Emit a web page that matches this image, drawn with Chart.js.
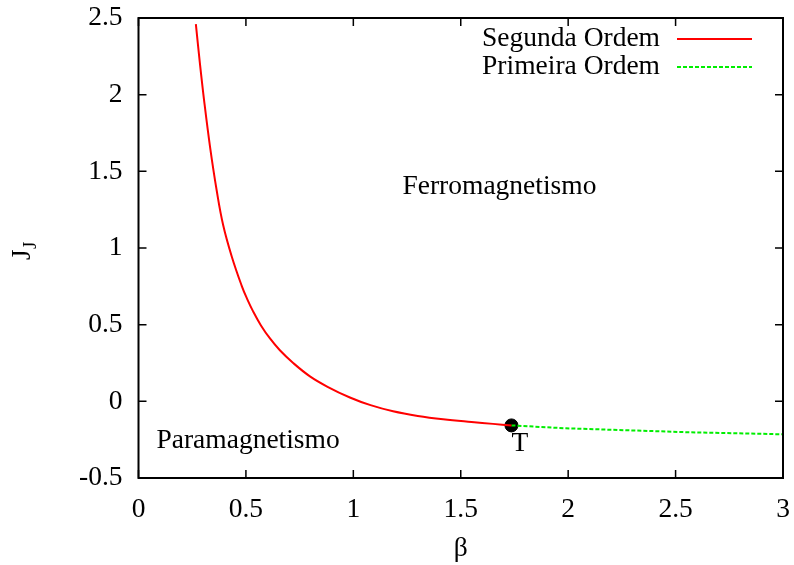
<!DOCTYPE html>
<html>
<head>
<meta charset="utf-8">
<script src="https://cdn.jsdelivr.net/npm/chart.js@4.4.1/dist/chart.umd.min.js"></script>
<style>
  html, body { margin: 0; padding: 0; background: #fff; }
  #wrap { width: 794px; height: 565px; position: relative; }
</style>
</head>
<body>
<div id="wrap"><canvas id="phaseChart"></canvas></div>
<script>
// second order line (red)
const betaSegunda = [0.267, 0.285, 0.306, 0.333, 0.364, 0.394, 0.434, 0.48, 0.505, 0.534, 0.57, 0.612, 0.658, 0.72, 0.798, 0.88, 0.984, 1.08, 1.185, 1.3, 1.418, 1.55, 1.65, 1.736];
const jSegunda    = [2.46, 2.215, 1.955, 1.66, 1.375, 1.15, 0.945, 0.755, 0.67, 0.585, 0.495, 0.41, 0.333, 0.25, 0.163, 0.095, 0.025, -0.025, -0.065, -0.095, -0.117, -0.135, -0.147, -0.157];

// first order line (green dashed)
const betaPrimeira = [1.736, 1.99, 2.148, 2.57, 3.0];
const jPrimeira    = [-0.157, -0.176, -0.183, -0.202, -0.215];

// tricritical point T
const pontoT = { x: 1.736, y: -0.157 };

const xTicks = [0, 0.5, 1, 1.5, 2, 2.5, 3];
const yTicks = [-0.5, 0, 0.5, 1, 1.5, 2, 2.5];

const legendLabels = ["Segunda Ordem", "Primeira Ordem"];

const serif = "'Liberation Serif', 'DejaVu Serif', serif";
const fontSize = 27.5;

const toPoints = (xs, ys) => xs.map((x, i) => ({ x: x, y: ys[i] }));

// text drawn at data coordinates
const anotacoes = [
    { text: "Ferromagnetismo", x: 1.68, y: 1.40 },
    { text: "Paramagnetismo", x: 0.51, y: -0.26 },
    { text: "T", x: 1.775, y: -0.275 }
];

const gnuplotFrame = {
    id: "gnuplotFrame",
    afterDraw(chart) {
        const c = chart.ctx;
        const a = chart.chartArea;
        const xs = chart.scales.x, ys = chart.scales.y;
        c.save();
        c.strokeStyle = "#000";
        c.lineWidth = 1.5;
        // inward ticks on all four sides
        c.beginPath();
        xTicks.forEach(v => {
            const px = xs.getPixelForValue(v);
            c.moveTo(px, a.bottom); c.lineTo(px, a.bottom - 8);
            c.moveTo(px, a.top); c.lineTo(px, a.top + 8);
        });
        yTicks.forEach(v => {
            const py = ys.getPixelForValue(v);
            c.moveTo(a.left, py); c.lineTo(a.left + 8, py);
            c.moveTo(a.right, py); c.lineTo(a.right - 8, py);
        });
        c.stroke();
        c.lineWidth = 2;
        c.strokeRect(a.left, a.top, a.right - a.left, a.bottom - a.top);

        // annotations
        c.fillStyle = "#000";
        c.font = fontSize + "px " + serif;
        c.textAlign = "center";
        c.textBaseline = "middle";
        anotacoes.forEach(t => {
            c.fillText(t.text, xs.getPixelForValue(t.x), ys.getPixelForValue(t.y));
        });

        // legend: text right aligned, line sample to the right
        const ds = chart.data.datasets;
        c.textAlign = "right";
        legendLabels.forEach((lab, i) => {
            const y = a.top + 21 + i * 28;
            c.fillStyle = "#000";
            c.fillText(lab, 660, y);
            c.strokeStyle = ds[i].borderColor;
            c.lineWidth = 2;
            c.setLineDash(ds[i].borderDash || []);
            c.beginPath();
            c.moveTo(677, y); c.lineTo(752, y);
            c.stroke();
            c.setLineDash([]);
        });

        // y title J with subscript J, rotated
        c.translate(22, 252);
        c.rotate(-Math.PI / 2);
        c.textAlign = "left";
        c.textBaseline = "alphabetic";
        c.font = fontSize + "px " + serif;
        c.fillText("J", -8, 8);
        c.font = "19px " + serif;
        c.fillText("J", 3, 14);
        c.restore();
    }
};

new Chart(document.getElementById("phaseChart"), {
    type: "line",
    data: {
        datasets: [
            {
                label: legendLabels[0],
                data: toPoints(betaSegunda, jSegunda),
                borderColor: "#ff0000",
                borderWidth: 2,
                pointRadius: 0,
                tension: 0.4,
                order: 1
            },
            {
                label: legendLabels[1],
                data: toPoints(betaPrimeira, jPrimeira),
                borderColor: "#00ee00",
                borderWidth: 2,
                borderDash: [4, 2],
                pointRadius: 0,
                order: 1
            },
            {
                label: "T",
                data: [pontoT],
                showLine: false,
                pointRadius: 6.5,
                pointBackgroundColor: "#000",
                pointBorderColor: "#000",
                order: 2
            }
        ]
    },
    options: {
        responsive: true,
        maintainAspectRatio: false,
        animation: false,
        layout: { padding: { top: 18, right: 11, left: 0, bottom: 0 } },
        plugins: { legend: { display: false }, tooltip: { enabled: false } },
        scales: {
            x: {
                type: "linear",
                min: 0,
                max: 3,
                afterBuildTicks: s => { s.ticks = xTicks.map(v => ({ value: v })); },
                afterFit: s => { s.height = 87; s.paddingLeft = 0; s.paddingRight = 0; },
                grid: { display: false, drawTicks: false },
                border: { display: false },
                ticks: { padding: 15, color: "#000", font: { family: serif, size: fontSize }, callback: v => String(v) },
                title: { display: true, text: "β", color: "#000", padding: { top: 1, bottom: 0 }, font: { family: serif, size: fontSize } }
            },
            y: {
                type: "linear",
                min: -0.5,
                max: 2.5,
                afterBuildTicks: s => { s.ticks = yTicks.map(v => ({ value: v })); },
                afterFit: s => { s.width = 138.5; s.paddingTop = 0; s.paddingBottom = 0; },
                grid: { display: false, drawTicks: false },
                border: { display: false },
                ticks: { padding: 16, color: "#000", font: { family: serif, size: fontSize }, callback: v => String(v) }
            }
        }
    },
    plugins: [gnuplotFrame]
});
</script>
</body>
</html>
